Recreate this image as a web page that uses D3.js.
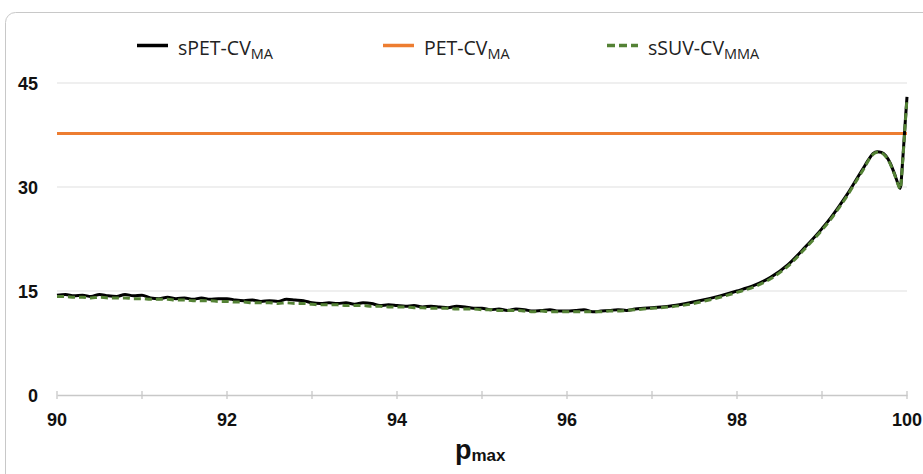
<!DOCTYPE html>
<html><head><meta charset="utf-8">
<script src="https://cdn.jsdelivr.net/npm/d3@7"></script>
<style>html,body{margin:0;padding:0;background:#fff;}svg{display:block;}</style>
</head><body>
<svg id="c" width="923" height="474"></svg>
<script>
const pmax = [90.0,90.1,90.2,90.3,90.4,90.5,90.6,90.7,90.8,90.9,91.0,91.1,91.2,91.3,91.4,91.5,91.6,91.7,91.8,91.9,92.0,92.1,92.2,92.3,92.4,92.5,92.6,92.7,92.8,92.9,93.0,93.1,93.2,93.3,93.4,93.5,93.6,93.7,93.8,93.9,94.0,94.1,94.2,94.3,94.4,94.5,94.6,94.7,94.8,94.9,95.0,95.1,95.2,95.3,95.4,95.5,95.6,95.7,95.8,95.9,96.0,96.1,96.2,96.3,96.4,96.5,96.6,96.7,96.8,96.9,97.0,97.2,97.4,97.6,97.8,98.0,98.2,98.4,98.6,98.8,99.0,99.1,99.2,99.3,99.4,99.5,99.55,99.6,99.65,99.7,99.75,99.8,99.85,99.9,99.92,99.95,99.98,100.0];
const sPET = [14.4,14.5,14.3,14.4,14.2,14.5,14.3,14.2,14.5,14.3,14.4,14.0,13.9,14.1,13.9,14.0,13.8,14.0,13.8,13.9,13.9,13.7,13.6,13.7,13.5,13.6,13.5,13.8,13.7,13.6,13.3,13.2,13.3,13.2,13.3,13.1,13.3,13.2,12.9,13.0,12.9,12.8,12.9,12.7,12.8,12.7,12.6,12.8,12.7,12.5,12.5,12.3,12.4,12.2,12.4,12.3,12.1,12.2,12.3,12.1,12.1,12.2,12.3,12.0,12.1,12.2,12.3,12.2,12.4,12.5,12.6,12.8,13.2,13.7,14.3,15.0,15.8,17.0,18.8,21.3,24.0,25.5,27.2,29.0,31.0,33.0,34.0,34.8,35.1,35.0,34.5,33.5,32.0,30.3,29.8,34.0,39.5,43.0];
const sSUV = [14.2,14.2,14.1,14.1,14.0,14.1,14.0,14.0,14.0,13.9,13.9,13.8,13.8,13.8,13.7,13.7,13.6,13.6,13.6,13.5,13.5,13.4,13.4,13.3,13.3,13.3,13.2,13.3,13.2,13.2,13.1,13.0,13.0,13.0,12.9,12.9,12.9,12.8,12.8,12.7,12.7,12.7,12.6,12.6,12.5,12.5,12.5,12.4,12.4,12.4,12.3,12.3,12.2,12.2,12.2,12.1,12.0,12.1,12.0,12.0,12.0,12.0,12.0,12.0,12.0,12.1,12.1,12.2,12.3,12.4,12.5,12.7,13.0,13.5,14.1,14.8,15.6,16.8,18.6,21.1,23.8,25.3,27.0,28.8,30.8,32.8,33.9,34.7,35.0,34.9,34.4,33.4,31.9,30.2,29.7,33.8,39.3,42.8];
const petCV = 37.7;
const yTicks = [0,15,30,45];
const xTicks = [90,92,94,96,98,100];
const xMinor = [90,91,92,93,94,95,96,97,98,99,100];
const seriesNames = ["sPET-CV","PET-CV","sSUV-CV"];
const seriesSubs = ["MA","MA","MMA"];

const svg = d3.select("#c");
const x = d3.scaleLinear().domain([90,100]).range([57,907]);
const y = d3.scaleLinear().domain([0,45]).range([395,83]);

// frame
svg.append("rect").attr("x",5.5).attr("y",12.5).attr("width",940).attr("height",480)
  .attr("rx",10).attr("fill","#fff").attr("stroke","#c8c8c8").attr("stroke-width",1);

// gridlines
svg.append("g").selectAll("line").data(yTicks.filter(d=>d>0)).join("line")
  .attr("x1",x(90)).attr("x2",x(100)).attr("y1",d=>y(d)).attr("y2",d=>y(d))
  .attr("stroke","#e0e0e0").attr("stroke-width",1.2);

// x axis
const xa = svg.append("g").attr("transform",`translate(0,${y(0)})`)
  .call(d3.axisBottom(x).tickValues(xMinor).tickSize(0).tickFormat(""));
xa.select(".domain").attr("stroke","#c8c8c8").attr("stroke-width",1.5);
xa.selectAll(".tick line").remove();
svg.append("g").selectAll("line").data(xMinor).join("line")
  .attr("x1",d=>x(d)).attr("x2",d=>x(d)).attr("y1",y(0)-4).attr("y2",y(0)+4)
  .attr("stroke","#c8c8c8").attr("stroke-width",1.3);

svg.append("g").selectAll("text").data(xTicks).join("text")
  .attr("x",d=>x(d)).attr("y",426).attr("text-anchor","middle")
  .attr("font-family","Liberation Sans, Arial, sans-serif").attr("font-weight","bold")
  .attr("font-size",18).attr("fill","#111").text(d=>d);

svg.append("g").selectAll("text").data(yTicks).join("text")
  .attr("x",38).attr("y",d=>y(d)+6.5).attr("text-anchor","end")
  .attr("font-family","Liberation Sans, Arial, sans-serif").attr("font-weight","bold")
  .attr("font-size",18).attr("fill","#111").text(d=>d);

// x title
const xt = svg.append("text").attr("x",455).attr("y",459)
  .attr("font-family","Liberation Sans, Arial, sans-serif").attr("font-weight","bold").attr("fill","#111");
xt.append("tspan").attr("font-size",27).text("p");
xt.append("tspan").attr("font-size",17).attr("dy",2).text("max");

// lines
const line = d3.line().x((d,i)=>x(pmax[i])).y(d=>y(d)).curve(d3.curveMonotoneX);
svg.append("line").attr("x1",x(90)).attr("x2",x(100)).attr("y1",y(petCV)).attr("y2",y(petCV))
  .attr("stroke","#ed7d31").attr("stroke-width",3);
svg.append("path").datum(sPET).attr("d",line).attr("fill","none")
  .attr("stroke","#000").attr("stroke-width",3).attr("stroke-linejoin","round");
svg.append("path").datum(sSUV).attr("d",line).attr("fill","none")
  .attr("stroke","#548235").attr("stroke-width",3).attr("stroke-dasharray","7,4");

// legend
const legend = seriesNames.map((n,i)=>({name:n, sub:seriesSubs[i],
  color:["#000","#ed7d31","#548235"][i], dash:[null,null,"8,4"][i], x:[137,383,607][i]}));
const lg = svg.append("g").selectAll("g").data(legend).join("g");
lg.append("line").attr("x1",d=>d.x).attr("x2",d=>d.x+31).attr("y1",45.5).attr("y2",45.5)
  .attr("stroke",d=>d.color).attr("stroke-width",3.5).attr("stroke-dasharray",d=>d.dash);
const lt = lg.append("text").attr("x",d=>d.x+41).attr("y",55)
  .attr("font-family","Open Sans, sans-serif").attr("font-size",19.5).attr("fill","#222");
lt.append("tspan").text(d=>d.name);
lt.append("tspan").attr("dy",4).attr("font-size",14.5).text(d=>d.sub);
</script>
</body></html>
